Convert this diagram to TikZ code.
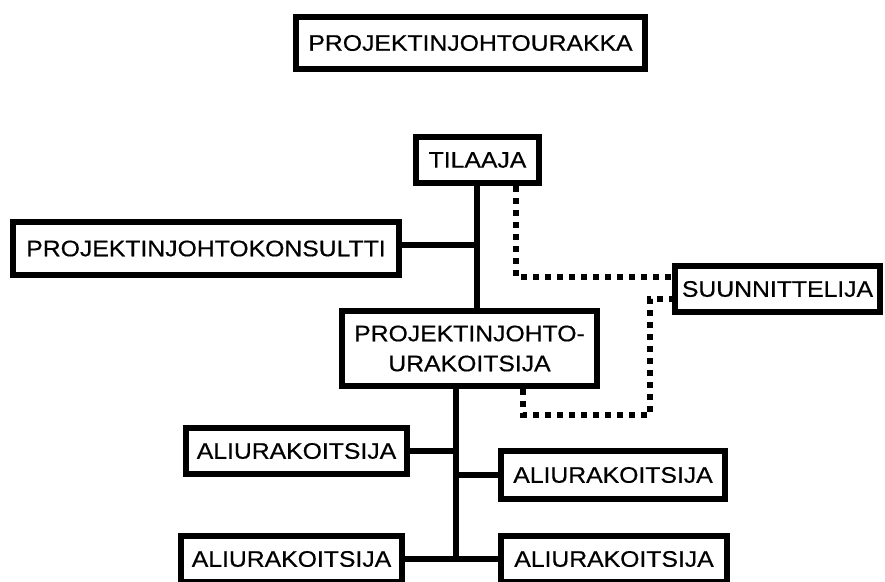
\documentclass[tikz,border=0pt]{standalone}
\usepackage{fontspec}
\setmainfont{Liberation Sans}[FakeStretch=1.1,FakeBold=0.5]

\tikzset{
  box/.style={draw, line width=6pt, fill=white, inner sep=0pt, align=center,
    font=\fontsize{22.5}{30}\selectfont},
  link/.style={line width=6pt},
  dotlink/.style={line width=6pt, dash pattern=on 6pt off 6pt},
}

\begin{document}
\begin{tikzpicture}[x=1pt,y=-1pt]
	\useasboundingbox (0,0) rectangle (885,581);
	
	% boxes
	\node[box, minimum width=349pt, minimum height=52pt] (urakka) at (470.5,43) {PROJEKTINJOHTOURAKKA};
	\node[box, minimum width=123pt, minimum height=46pt] (tilaaja) at (477.5,160) {TILAAJA};
	\node[box, minimum width=386pt, minimum height=53pt] (konsultti) at (206,248.5) {PROJEKTINJOHTOKONSULTTI};
	\node[box, minimum width=205pt, minimum height=46pt] (suunn) at (777.5,289) {SUUNNITTELIJA};
	\node[box, minimum width=255pt, minimum height=75pt] (pju) at (469.5,348.5) {PROJEKTINJOHTO-\\URAKOITSIJA};
	\node[box, minimum width=221pt, minimum height=46pt] (ali1) at (296.5,451) {ALIURAKOITSIJA};
	\node[box, minimum width=224pt, minimum height=48pt] (ali2) at (613,475) {ALIURAKOITSIJA};
	\node[box, minimum width=221pt, minimum height=46pt] (ali3) at (291.5,559) {ALIURAKOITSIJA};
	\node[box, minimum width=226pt, minimum height=46pt] (ali4) at (614,559) {ALIURAKOITSIJA};
	
	% trunks
	\coordinate (haara) at (477,245);
	\coordinate (runko) at (456,559);
	\draw[link] (tilaaja.south -| haara) -- (pju.north -| haara);
	\draw[link] (konsultti.east |- haara) -- (haara);
	\draw[link] (pju.south -| runko) -- (runko);
	\draw[link] (ali1.east) -- (ali1.east -| runko);
	\draw[link] (ali2.west -| runko) -- (ali2.west);
	\draw[link] (ali3.east) -- (ali4.west);
	
	% dotted links to suunnittelija
	\coordinate (d1) at (516,277);
	\coordinate (d2) at (523,415);
	\coordinate (d3) at (650,299);
	\draw[dotlink] (tilaaja.south -| d1) -- (d1) -- (d1 -| suunn.west);
	\draw[dotlink] (pju.south -| d2) -- (d2) -- (d2 -| d3) -- (d3) -- (d3 -| suunn.west);
	
\end{tikzpicture}
\end{document}
